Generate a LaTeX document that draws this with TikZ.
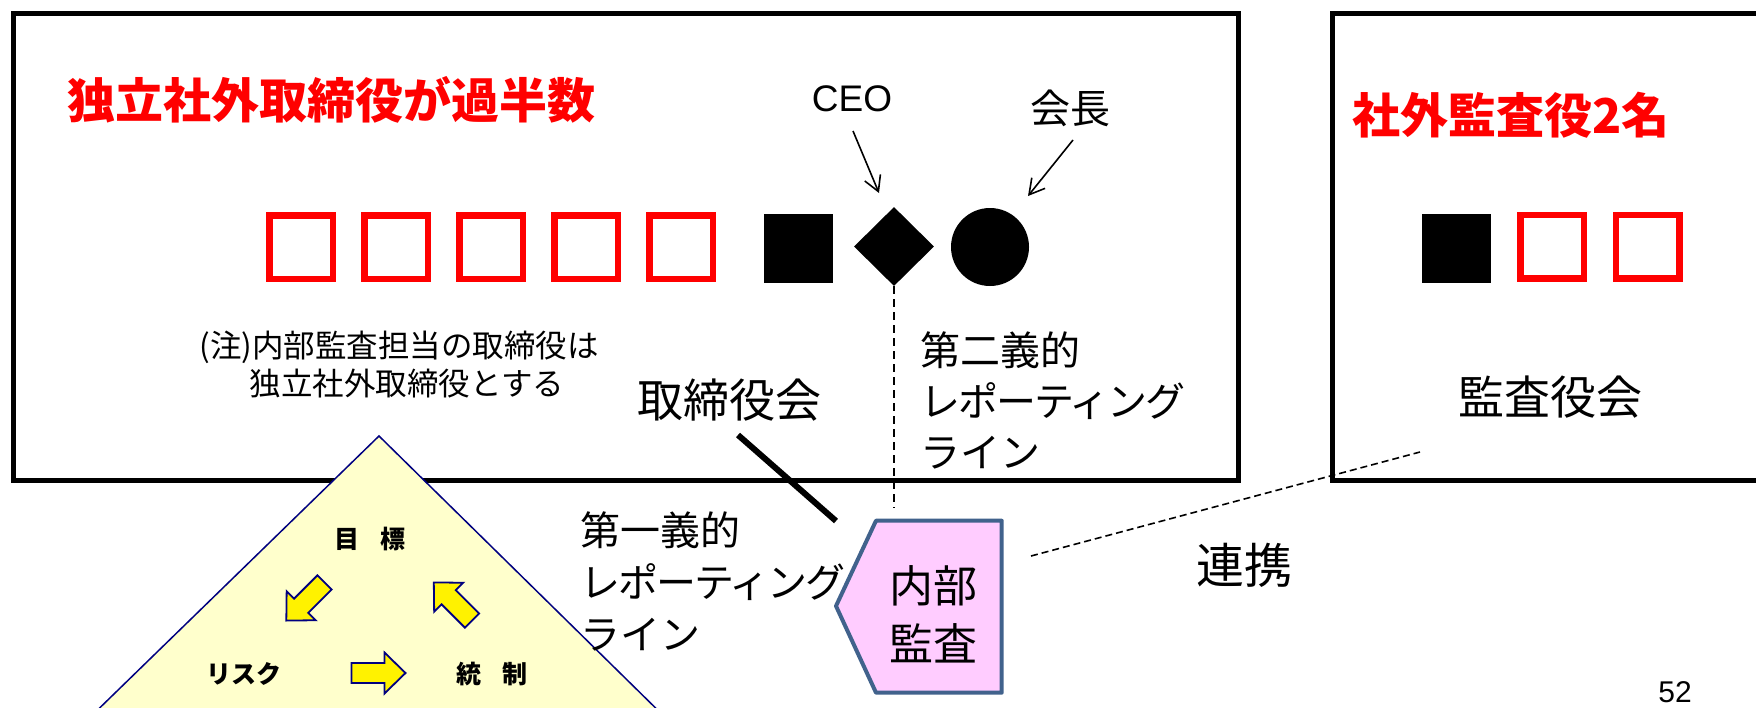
\documentclass[tikz,border=0pt]{standalone}
\usepackage{fontspec}
\setmainfont{Liberation Sans}
\newfontfamily\jp{Noto Sans CJK JP}
\usetikzlibrary{shapes.geometric,arrows.meta}
\definecolor{pinkfill}{HTML}{FFCCFF}
\definecolor{iaborder}{RGB}{65,98,140}
\definecolor{paleyellow}{HTML}{FFFFCC}
\definecolor{navyline}{HTML}{000080}
\newcommand{\setfs}[1]{\fontsize{#1}{#1}\selectfont}
\newcommand{\tightkana}[1]{{\addfontfeature{LetterSpace=-5}#1}}
\newcommand{\blockarrow}[3]{%
  \begin{scope}[shift={(#1,#2)},rotate=#3]
    \draw[yarrow] (-27,-10) -- (6,-10) -- (6,-20.5) -- (27,0) -- (6,20.5) -- (6,10) -- (-27,10) -- cycle;
  \end{scope}}
\tikzset{
  boxline/.style={line width=5pt, line join=miter},
  redsq/.style={draw=red, line width=6.5pt, minimum size=63.5pt, inner sep=0pt},
  blksq/.style={fill=black, minimum size=69pt, inner sep=0pt},
  txt/.style={inner sep=0pt, outer sep=0pt},
  ptr/.style={line width=1.6pt, -{Straight Barb[length=15pt,width=17pt]}},
  vdash/.style={line width=2pt, dash pattern=on 8pt off 5pt},
  linkdash/.style={line width=1.6pt, dash pattern=on 7pt off 4pt},
  iashape/.style={draw=iaborder, fill=pinkfill, line width=4pt, line join=round},
  yarrow/.style={draw=navyline, fill=yellow, line width=1.8pt, line join=miter},
  pyramid/.style={draw=navyline, fill=paleyellow, line width=1.5pt},
}
\begin{document}
\begin{tikzpicture}[x=1pt,y=-1pt]
\useasboundingbox (0,0) rectangle (1756,707);
\fill[white] (0,0) rectangle (1756,707);
\clip (0,0) rectangle (1756,707);

% board box and audit box
\draw[boxline] (13,13) rectangle (1238,480);
\draw[boxline] (1332,13) rectangle (1790,480);

% pyramid
\coordinate (pyTop) at (379,436);
\coordinate (pyL) at (77,730);
\coordinate (pyR) at (678,730);
\draw[pyramid] (pyTop) -- (pyL) -- (pyR) -- cycle;

% board members
\node[redsq] (r1) at (301,247) {};
\node[redsq] (r2) at (396,247) {};
\node[redsq] (r3) at (491,247) {};
\node[redsq] (r4) at (586,247) {};
\node[redsq] (r5) at (681,247) {};
\node[blksq] (b1) at (798.5,248.5) {};
\node[diamond, fill=black, minimum width=80pt, minimum height=79pt, inner sep=0pt] (ceo) at (894,246.5) {};
\node[circle, fill=black, minimum size=78pt, inner sep=0pt] (chair) at (990,247) {};

% auditors
\node[blksq] (b2) at (1456.5,248.5) {};
\node[redsq] (r6) at (1552,246.5) {};
\node[redsq] (r7) at (1647.5,246.5) {};

% titles
\node[txt, text=red, font=\jp\bfseries\setfs{48}] (title1) at (331,100) {独立社外取締役が過半数};
\node[txt, text=red, font=\jp\bfseries\setfs{48}] (title2) at (1511,115) {社外監査役2名};

% CEO / chair labels
\node[txt, font=\setfs{37}] (ceolbl) at (852,99) {CEO};
\node[txt, font=\jp\setfs{40}] (chairlbl) at (1070,108) {会長};
\coordinate (ceoA) at (853,131);
\coordinate (ceoB) at (879,193);
\coordinate (chA) at (1073,140);
\coordinate (chB) at (1028,196);
\draw[ptr] (ceoA) -- (ceoB);
\draw[ptr] (chA) -- (chB);

% note
\node[txt, font=\jp\setfs{31.5}] (note1) at (399,347) {(注)内部監査担当の取締役は};
\node[txt, font=\jp\setfs{31.5}] (note2) at (407,384) {独立社外取締役とする};

% board / auditor labels
\node[txt, font=\jp\setfs{46}] (board) at (729,400) {取締役会};
\node[txt, font=\jp\setfs{46}] (kansa) at (1550,397) {監査役会};

% reporting lines labels
\node[txt, font=\jp\fontsize{40}{51}\selectfont, align=left, anchor=west] (second) at (920,400) {第二義的\\\tightkana{レポーティング}\\ライン};
\node[txt, font=\jp\fontsize{40}{52}\selectfont, align=left, anchor=west] (first) at (580,581) {第一義的\\\tightkana{レポーティング}\\ライン};

% internal audit
\coordinate (iaTL) at (876,520.7);
\coordinate (iaTR) at (1001.7,520.7);
\coordinate (iaBR) at (1001.7,692.7);
\coordinate (iaBL) at (876,692.7);
\coordinate (iaP) at (836,606);
\draw[iashape] (iaTL) -- (iaTR) -- (iaBR) -- (iaBL) -- (iaP) -- cycle;
\node[txt, font=\jp\fontsize{44}{58}\selectfont, align=center] (ia) at (933,614) {内部\\監査};

% connectors
\coordinate (dashend) at (895,508);
\draw[vdash] (ceo.south) -- (ceo.south |- dashend);
\coordinate (bdA) at (738,435);
\coordinate (bdB) at (836,521);
\draw[line width=6pt] (bdA) -- (bdB);
\coordinate (lkA) at (1031,556);
\coordinate (lkB) at (1420,452);
\draw[linkdash] (lkA) -- (lkB);
\node[txt, font=\jp\setfs{48}] (link) at (1244,565) {連携};

% pyramid contents
\node[txt, font=\jp\bfseries\setfs{25}] (goal) at (370,539) {目\hspace{21pt}標};
\node[txt, font=\jp\bfseries\setfs{25}] (risk) at (244,674) {リスク};
\node[txt, font=\jp\bfseries\setfs{25}] (ctrl) at (492,674) {統\hspace{21pt}制};
\blockarrow{305.4}{601.5}{225}
\blockarrow{452.9}{601.5}{135}
\blockarrow{378.5}{673}{0}

% page number
\node[txt, font=\setfs{30}] (pgno) at (1675,692) {52};
\end{tikzpicture}
\end{document}
